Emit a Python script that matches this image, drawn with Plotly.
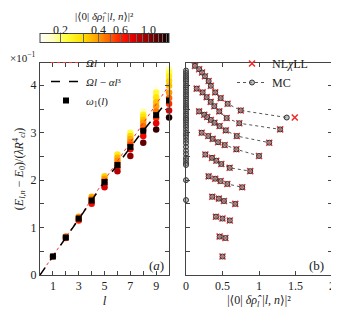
import numpy as np
import plotly.graph_objects as go
from plotly.subplots import make_subplots

# ---------------- data (energies in units of 1e-1) ----------------
l_values = list(range(1, 11))

energy_l1 = [0.39]
energy_l2 = [0.81, 0.78]
energy_l3 = [1.23, 1.19, 1.15]
energy_l4 = [1.65, 1.61, 1.56, 1.50]
energy_l5 = [2.08, 2.03, 1.98, 1.92, 1.85]
energy_l6 = [2.54, 2.47, 2.41, 2.34, 2.26, 2.19]
energy_l7 = [3.00, 2.93, 2.87, 2.80, 2.74, 2.65, 2.51]
energy_l8 = [3.45, 3.38, 3.33, 3.27, 3.21, 3.14, 3.05, 2.93, 2.79]
energy_l9 = [3.93, 3.85, 3.75, 3.65, 3.56, 3.45, 3.31, 3.20, 3.07]
energy_l10 = [4.41, 4.34, 4.27, 4.19, 4.09, 3.99, 3.85, 3.73, 3.61, 3.47, 3.32]

weight_mc_l1 = [0.50]
weight_mc_l2 = [0.46, 0.54]
weight_mc_l3 = [0.41, 0.50, 0.60]
weight_mc_l4 = [0.36, 0.45, 0.52, 0.675]
weight_mc_l5 = [0.31, 0.40, 0.475, 0.566, 0.77]
weight_mc_l6 = [0.265, 0.356, 0.415, 0.484, 0.598, 0.88]
weight_mc_l7 = [0.215, 0.305, 0.365, 0.44, 0.53, 0.69, 1.00]
weight_mc_l8 = [0.18, 0.25, 0.29, 0.34, 0.39, 0.46, 0.545, 0.695, 1.14]
weight_mc_l9 = [0.146, 0.228, 0.283, 0.338, 0.388, 0.456, 0.557, 0.73, 1.29]
weight_mc_l10 = [0.123, 0.18, 0.22, 0.26, 0.31, 0.34, 0.40, 0.475, 0.57, 0.75, 1.38]

weight_nl_l10 = [0.123, 0.18, 0.22, 0.26, 0.31, 0.34, 0.40, 0.475, 0.57, 0.75, 1.49]

# states with (almost) vanishing weight, MC only
energy_zero_weight = [4.31, 4.26, 4.21, 4.17, 4.13, 4.09, 4.04, 3.99, 3.95, 3.91,
                      3.86, 3.81, 3.77, 3.72, 3.68, 3.63, 3.58, 3.54, 3.50, 3.45,
                      3.40, 3.36, 3.31, 3.27, 3.22, 3.17, 3.12, 3.06, 3.00, 2.95,
                      2.90, 2.84, 2.78, 2.70, 2.62, 2.55, 2.47, 2.42, 2.36, 2.32,
                      2.00, 1.58]
weight_zero = [0.0] * len(energy_zero_weight)

omega_1 = [0.39, 0.79, 1.19, 1.57, 1.96, 2.32, 2.70, 3.04, 3.37, 3.68]
Omega = 0.40
alpha = 0.0003

cbar_ticks = [0.2, 0.3, 0.4, 0.5, 0.6, 0.7, 0.8, 0.9, 1.0, 1.1, 1.2, 1.3, 1.4]
cbar_label_vals = [0.2, 0.4, 0.6, 1.0]
cbar_label_text = ["0.2", "0.4", "0.6", "1.0"]
cbar_min, cbar_max = 0.136, 1.46

# ---------------- assemble ----------------
energies = [energy_l1, energy_l2, energy_l3, energy_l4, energy_l5,
            energy_l6, energy_l7, energy_l8, energy_l9, energy_l10]
weights_mc = [weight_mc_l1, weight_mc_l2, weight_mc_l3, weight_mc_l4, weight_mc_l5,
              weight_mc_l6, weight_mc_l7, weight_mc_l8, weight_mc_l9, weight_mc_l10]
weights_nl = weights_mc[:9] + [weight_nl_l10]

FONT = "Liberation Serif, DejaVu Serif, serif"
AX = "#444444"
TXT = "#222222"
WEIGHT_LABEL = "|⟨0| <i>δρ̂</i><sub><i>l</i></sub> |<i>l</i>, <i>n</i>⟩|²"

# the page body has an 8px default margin: size the figure to fill the window
OFF = 8
W, H = 339 - OFF, 315 - OFF
ML, MR, MT, MB = 40 - OFF, 7, 63 - OFF, 40
PW, PH = W - ML - MR, H - MT - MB


def px2paper_x(px):  # page pixel -> paper fraction
    return (px - OFF - ML) / PW


def px2paper_y(py):
    return (OFF + H - MB - py) / PH


fig = make_subplots(rows=1, cols=2)

# left panel: states coloured by weight (sorted so darker drawn last)
pts = []
for l, es, ws in zip(l_values, energies, weights_mc):
    for e, w in zip(es, ws):
        pts.append((w, l, e))
pts.sort()
fig.add_trace(go.Scatter(
    x=[p[1] for p in pts], y=[p[2] for p in pts], mode="markers",
    marker=dict(size=6.5, color=[np.log10(p[0]) for p in pts], coloraxis="coloraxis",
                line=dict(width=0)),
    showlegend=False, cliponaxis=False), row=1, col=1)

l_line = np.linspace(0, 10, 201)
fig.add_trace(go.Scatter(
    x=l_line, y=Omega * l_line, mode="lines",
    line=dict(color="#ff3030", width=1, dash="dot"),
    name="<i>Ωl</i>", legend="legend"), row=1, col=1)
fig.add_trace(go.Scatter(
    x=l_line, y=Omega * l_line - alpha * l_line ** 3, mode="lines",
    line=dict(color="black", width=1.5, dash="dash"),
    name="<i>Ωl</i> − <i>αl</i>³", legend="legend"), row=1, col=1)
fig.add_trace(go.Scatter(
    x=l_values, y=omega_1, mode="markers",
    marker=dict(symbol="square", size=6, color="black", line=dict(width=0)),
    name="<i>ω</i><sub>1</sub>(<i>l</i>)", legend="legend"), row=1, col=1)

# right panel
for i, (es, wn) in enumerate(zip(energies, weights_nl)):
    fig.add_trace(go.Scatter(
        x=wn, y=es, mode="markers",
        marker=dict(symbol="x-thin", size=6, line=dict(width=1.5, color="#f02a2a")),
        name="NL<i>χ</i>LL", legend="legend2", showlegend=(i == 0),
        legendgroup="nl"), row=1, col=2)
for i, (es, wm) in enumerate(zip(energies, weights_mc)):
    fig.add_trace(go.Scatter(
        x=wm, y=es, mode="lines+markers",
        line=dict(color="#555555", width=1, dash="dot"),
        marker=dict(symbol="circle", size=5, color="rgba(150,150,150,0.6)",
                    line=dict(width=1, color="#333333")),
        name="MC", legend="legend2", showlegend=(i == 0), legendgroup="mc"),
        row=1, col=2)
fig.add_trace(go.Scatter(
    x=weight_zero, y=energy_zero_weight, mode="markers",
    marker=dict(symbol="circle", size=5, color="rgba(150,150,150,0.6)",
                line=dict(width=1, color="#333333")),
    showlegend=False, cliponaxis=False), row=1, col=2)

colorscale = [
    [0.00, "#ffffff"], [0.10, "#ffffc0"], [0.20, "#ffff40"], [0.33, "#ffe000"],
    [0.45, "#ff9c00"], [0.56, "#ff5000"], [0.63, "#ff1a00"], [0.72, "#e00000"],
    [0.84, "#900000"], [0.93, "#480000"], [1.00, "#000000"]]

CB_LEFT, CB_LEN = 40, 129
lmin, lmax = np.log10(cbar_min), np.log10(cbar_max)

tickfont = dict(family=FONT, size=12, color=TXT)
axis_common = dict(showgrid=False, zeroline=False, showline=True, linecolor=AX,
                   linewidth=1, mirror="ticks", ticks="inside", ticklen=4,
                   tickcolor=AX, tickfont=tickfont)

fig.update_layout(
    width=W, height=H,
    margin=dict(l=ML, r=MR, t=MT, b=MB, autoexpand=False),
    paper_bgcolor="white", plot_bgcolor="white",
    font=dict(family=FONT, size=12, color=TXT),
    coloraxis=dict(
        colorscale=colorscale, cmin=lmin, cmax=lmax,
        colorbar=dict(
            orientation="h", x=px2paper_x(CB_LEFT), xanchor="left",
            y=px2paper_y(42.5), yanchor="middle",
            len=CB_LEN, lenmode="pixels", thickness=9, xpad=0, ypad=0,
            outlinewidth=1, outlinecolor=AX,
            tickvals=[np.log10(v) for v in cbar_ticks],
            ticks="inside", ticklen=9, tickcolor="#666", tickwidth=1,
            showticklabels=False)),
    legend=dict(x=px2paper_x(46), y=px2paper_y(48), xanchor="left", yanchor="top",
                bgcolor="rgba(0,0,0,0)", font=dict(family=FONT, size=11, color=TXT),
                itemwidth=30, tracegroupgap=0),
    legend2=dict(x=px2paper_x(232), y=px2paper_y(49), xanchor="left", yanchor="top",
                 bgcolor="rgba(0,0,0,0)", font=dict(family=FONT, size=12, color=TXT),
                 itemwidth=30, tracegroupgap=0),
)

fig.update_xaxes(**axis_common)
fig.update_yaxes(**axis_common)

fig.update_xaxes(domain=[0, 0.442], range=[0, 10], tickmode="array",
                 tickvals=[1, 3, 5, 7, 9], ticktext=["1", "3", "5", "7", "9"],
                 minor=dict(dtick=1, tick0=0, ticks="inside", ticklen=4, tickcolor=AX),
                 title=dict(text="<i>l</i>", standoff=2, font=dict(family=FONT, size=13)),
                 row=1, col=1)
fig.update_yaxes(range=[0, 4.47], tickmode="array", tickvals=[0, 1, 2, 3, 4],
                 ticktext=["0", "1", "2", "3", "4"],
                 minor=dict(dtick=0.5, tick0=0, ticks="inside", ticklen=4, tickcolor=AX),
                 title=dict(text="(<i>E</i><sub><i>l,n</i></sub> − <i>E</i><sub>0</sub>)/(<i>λR</i><sup>4</sup><sub><i>cl</i></sub>)",
                            standoff=4, font=dict(family=FONT, size=12)),
                 row=1, col=1)
fig.update_xaxes(domain=[0.5, 1.0], range=[0, 2], tickmode="array",
                 tickvals=[0, 0.5, 1, 1.5, 2],
                 ticktext=["0", "0.5", "1", "1.5", "2"],
                 title=dict(text=WEIGHT_LABEL, standoff=0, font=dict(family=FONT, size=12)),
                 row=1, col=2)
fig.update_yaxes(range=[0, 4.47], tickmode="array", tickvals=[0, 1, 2, 3, 4],
                 showticklabels=False,
                 minor=dict(dtick=0.5, tick0=0, ticks="inside", ticklen=4, tickcolor=AX),
                 row=1, col=2)

# colour-bar labels and title (placed above the bar)
for v, t in zip(cbar_label_vals, cbar_label_text):
    px = CB_LEFT + (np.log10(v) - lmin) / (lmax - lmin) * CB_LEN
    fig.add_annotation(text=t, xref="paper", yref="paper", x=px2paper_x(px),
                       y=px2paper_y(30), xanchor="center", yanchor="middle",
                       showarrow=False, font=dict(family=FONT, size=12, color=TXT))
fig.add_annotation(text=WEIGHT_LABEL,
                   xref="paper", yref="paper", x=px2paper_x(104), y=px2paper_y(8),
                   xanchor="center", yanchor="top", showarrow=False,
                   font=dict(family=FONT, size=11, color=TXT))

fig.add_annotation(text="×10<sup>−1</sup>", xref="paper", yref="paper",
                   x=px2paper_x(38), y=px2paper_y(57), xanchor="right", yanchor="middle",
                   showarrow=False, font=dict(family=FONT, size=11, color=TXT))
fig.add_annotation(text="(<i>a</i>)", xref="x domain", yref="y domain",
                   x=0.98, y=0.045, xanchor="right", yanchor="middle", showarrow=False,
                   font=dict(family=FONT, size=13, color=TXT))
fig.add_annotation(text="(b)", xref="x2 domain", yref="y2 domain",
                   x=0.96, y=0.045, xanchor="right", yanchor="middle", showarrow=False,
                   font=dict(family=FONT, size=13, color=TXT))

fig.write_html("out.html")
